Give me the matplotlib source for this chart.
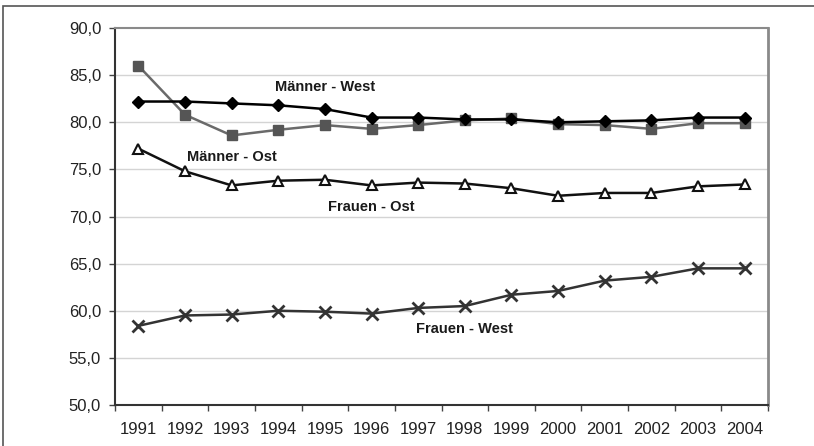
import numpy as np
import matplotlib.pyplot as plt
from matplotlib.ticker import FuncFormatter
from matplotlib.patches import Rectangle

plt.rcParams['font.family'] = ['Liberation Sans', 'DejaVu Sans']

years = ['1991', '1992', '1993', '1994', '1995', '1996', '1997',
         '1998', '1999', '2000', '2001', '2002', '2003', '2004']

maenner_west = [82.2, 82.2, 82.0, 81.8, 81.4, 80.5, 80.5,
                80.3, 80.3, 80.0, 80.1, 80.2, 80.5, 80.5]
maenner_ost = [86.0, 80.8, 78.6, 79.2, 79.7, 79.3, 79.7,
               80.2, 80.4, 79.8, 79.7, 79.3, 79.9, 79.9]
frauen_ost = [77.2, 74.8, 73.3, 73.8, 73.9, 73.3, 73.6,
              73.5, 73.0, 72.2, 72.5, 72.5, 73.2, 73.4]
frauen_west = [58.4, 59.5, 59.6, 60.0, 59.9, 59.7, 60.3,
               60.5, 61.7, 62.1, 63.2, 63.6, 64.5, 64.5]

series_labels = ['Männer - West', 'Männer - Ost', 'Frauen - Ost', 'Frauen - West']


def plot_chart():
    fig = plt.figure(figsize=(8.14, 4.46), dpi=100)
    # outer frame of the picture
    fig.patches.append(Rectangle((3 / 814, -0.1), 1.2, 1.1 - 6 / 446,
                                 transform=fig.transFigure, fill=False,
                                 edgecolor='#555555', linewidth=1.2))

    ax = fig.add_axes([0.1413, 0.0919, 0.8022, 0.8453])
    x = np.arange(len(years))

    # grid
    for v in np.arange(55, 90, 5):
        ax.axhline(v, color='#d4d4d4', linewidth=1, zorder=0)

    ax.plot(x, frauen_west, color='#333333', linewidth=1.8, marker='x',
            markersize=8, markeredgewidth=2, zorder=3)
    ax.plot(x, frauen_ost, color='#111111', linewidth=1.8, marker='^',
            markersize=7, markerfacecolor='white', markeredgecolor='#111111',
            markeredgewidth=1.5, zorder=3)
    ax.plot(x, maenner_ost, color='#6a6a6a', linewidth=1.8, marker='s',
            markersize=7, markerfacecolor='#555555', markeredgecolor='#555555',
            zorder=3)
    ax.plot(x, maenner_west, color='#000000', linewidth=1.8, marker='D',
            markersize=6, markerfacecolor='#000000', zorder=4)

    ax.set_xlim(-0.5, len(years) - 0.5)
    ax.set_ylim(50, 90)
    ax.set_yticks(np.arange(50, 91, 5))
    ax.yaxis.set_major_formatter(FuncFormatter(lambda v, p: f'{v:.1f}'.replace('.', ',')))
    ax.set_xticks(x)
    ax.set_xticklabels(years)
    ax.set_xticks(np.arange(-0.5, len(years), 1), minor=True)
    ax.tick_params(axis='x', which='major', length=0, pad=12,
                   labelsize=12, labelcolor='#222222')
    ax.tick_params(axis='x', which='minor', length=4, width=1, color='#444444')
    ax.tick_params(axis='y', length=4, width=1, color='#444444', pad=6,
                   labelsize=12, labelcolor='#222222')

    ax.spines['left'].set_color('#333333')
    ax.spines['left'].set_linewidth(1.5)
    ax.spines['bottom'].set_color('#333333')
    ax.spines['bottom'].set_linewidth(1.5)
    ax.spines['top'].set_color('#8a8a8a')
    ax.spines['top'].set_linewidth(1.5)
    ax.spines['right'].set_color('#8a8a8a')
    ax.spines['right'].set_linewidth(2)

    # series labels
    kw = dict(fontsize=10.5, fontweight='bold', color='#1a1a1a', ha='center', va='center')
    ax.text(4.0, 83.7, series_labels[0], **kw)
    ax.text(2.0, 76.3, series_labels[1], **kw)
    ax.text(5.0, 71.0, series_labels[2], **kw)
    ax.text(7.0, 58.1, series_labels[3], **kw)

    fig.savefig('out.png', dpi=100)


plot_chart()
